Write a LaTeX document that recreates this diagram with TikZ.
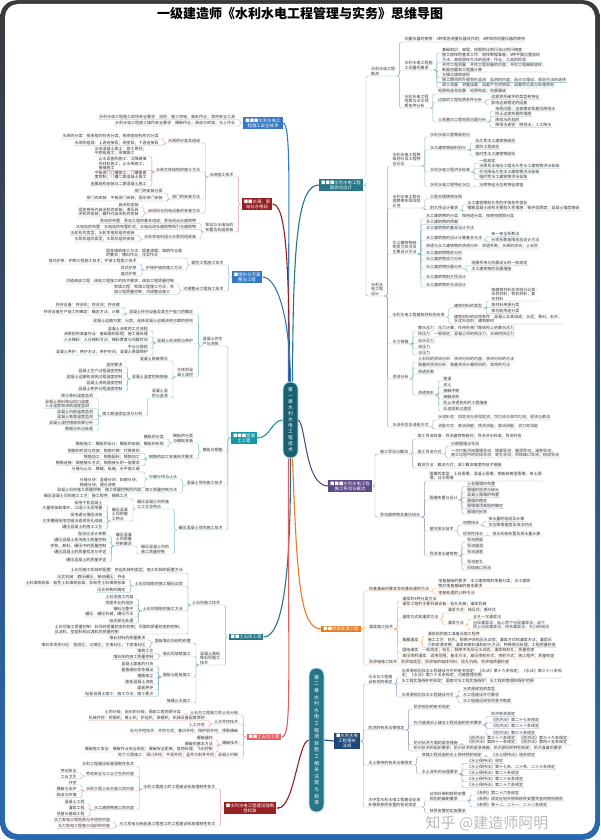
\documentclass[tikz,border=0pt]{standalone}
\usepackage{fontspec}
\newfontfamily\cjk{Noto Sans CJK SC}
\usetikzlibrary{arrows.meta, positioning, calc}
\definecolor{gris}{RGB}{58,58,62}
\definecolor{bleucadre}{RGB}{40,105,180}
\definecolor{bleu}{RGB}{52,120,196}
\definecolor{sarcelle}{RGB}{38,118,136}
\definecolor{sarcelleclair}{RGB}{24,150,166}
\definecolor{sarcellefonce}{RGB}{26,96,112}
\definecolor{bordeaux}{RGB}{150,32,36}
\definecolor{rouge}{RGB}{224,96,96}
\definecolor{mauve}{RGB}{94,74,136}
\definecolor{orangef}{RGB}{234,122,32}
\definecolor{marine}{RGB}{30,72,122}
\tikzset{
	feuille/.style={font=\cjk\fontsize{4}{4.3}\selectfont, text=black!80,
		inner xsep=1pt, inner ysep=0.4pt, align=left},
	boite/.style={font=\cjk\fontsize{4.4}{5}\selectfont, text=white,
		inner xsep=2pt, inner ysep=1.4pt, align=center},
	lien/.style={line width=0.4pt, rounded corners=1.5pt, draw=#1},
	branche/.style={line width=1.1pt, draw=#1},
	capsule/.style={text=white, font=\cjk\fontsize{4.8}{6}\selectfont, align=center,
		rounded corners=7pt, draw=cyan!25, line width=0.8pt, inner sep=0pt, minimum width=15pt},
}
\newcommand{\filsD}[4]{%
	\foreach \y/\txt [count=\i] in {#4}{%
		\node[feuille, anchor=south west, xshift=7pt] (#1-\i) at (#1.#2 |- 0,\y) {\txt};
		\draw[#3] (#1.#2) -- ++(3,0) |- (#1-\i.south west) -- (#1-\i.south east);
	}}
\newcommand{\filsG}[4]{%
	\foreach \y/\txt [count=\i] in {#4}{%
		\node[feuille, anchor=south east, xshift=-7pt] (#1-\i) at (#1.#2 |- 0,\y) {\txt};
		\draw[#3] (#1.#2) -- ++(-3,0) |- (#1-\i.south east) -- (#1-\i.south west);
	}}

\begin{document}
\begin{tikzpicture}[x=1pt, y=-1pt, font=\cjk]
	\useasboundingbox (0,0) rectangle (600,840);
	\fill[top color=gris, bottom color=bleucadre, rounded corners=16pt] (0.5,0.5) rectangle (599.5,839.5);
	\fill[white, rounded corners=13pt] (5,4) rectangle (595,834);
	\node[font=\cjk\bfseries\fontsize{13}{13}\selectfont] (titre) at (300,13) {一级建造师《水利水电工程管理与实务》思维导图};

	\node[capsule, fill=sarcellefonce, minimum height=76pt] (ch1) at (290.5,420)
	{第\\一\\章\\水\\利\\水\\电\\工\\程\\技\\术};

	\node[boite, fill=sarcelle] (kc) at (341,185) {■■■水利水电工程\\勘测与设计};
	\filsD{kc}{east}{lien=sarcelle!55}{76/{水利水电工程\\勘测}, 296/{水利水\\电工程\\设计}}
	\filsD{kc-1}{south east}{lien=sarcelle!55}{42/{测量仪器的使用：4种常用测量仪器及作用；4种常用测量仪器的使用},
		70/{水利水电工程施\\工测量的要求}, 108/{水利水电工程\\地质与水文地\\质条件分析}}
	\filsD{kc-1-2}{south east}{lien=sarcelle!55}{53/{基础知识：高程；地图的比例尺及比例尺精度},
		62.5/{施工放样的基本工作：放样数据准备；5种平面位置放样\\方法；高程放样方法的选择；作业；工具的检验},
		72/{开挖工程测量：开挖工程测量的内容；开挖工程细部放样；\\断面测量和工程量计算},
		77.3/{立模与填筑放样}, 82.6/{施工期间的外部变形监测：监测的内容；选点与埋设；观测方法的选择},
		88/{竣工测量\quad 测量误差：误差产生的原因；误差的分类与处理原则}}
	\filsD{kc-1-3}{south east}{lien=sarcelle!55}{94/{地质构造及地震：地质构造；地震震级},
		102/{边坡的工程地质条件分析}, 122/{土质基坑工程地质问题分析}}
	\filsD{kc-1-3-2}{south east}{lien=sarcelle!55}{99.5/{边坡变形破坏的类型和特征}, 105/{影响边坡稳定的因素}}
	\filsD{kc-1-3-3}{south east}{lien=sarcelle!55}{111/{地质问题：边坡稳定和基坑降排水}, 116.5/{防止边坡失稳的措施},
		122/{降排水的目的}, 127.5/{降排水途径：明排法；人工降水}}
	\filsD{kc-2}{south east}{lien=sarcelle!55}{166/{水利水电工程等\\级划分及工程特\\征水位},
		208/{水利水电工程合\\理使用年限及耐\\久性}, 254/{水工建筑物结\\构受力状况及\\主要设计方法},
		317/{水利水电工程建筑材料的应用}, 344/{水力荷载}, 379/{渗流分析}, 427/{水流形态及消能方式}}
	\filsD{kc-2-1}{south east}{lien=sarcelle!55}{137/{水利水电工程等级划分}, 150/{水工建筑物级别划分},
		172/{水利水电工程洪水标准}, 187/{水利水电工程特征水位}}
	\filsD{kc-2-1-2}{south east}{lien=sarcelle!55}{143/{永久性水工建筑物级别}, 149.5/{堤防工程级别}, 156/{临时性水工建筑物级别}}
	\filsD{kc-2-1-3}{south east}{lien=sarcelle!55}{163/{一般规定}, 168.5/{水库及水电站工程永久性水工建筑物洪水标准},
		174/{拦河闸永久性水工建筑物洪水标准}, 179.5/{临时性水工建筑物洪水标准}}
	\filsD{kc-2-1-4}{south east}{lien=sarcelle!55}{187/{水库特征水位和特征库容}}
	\filsD{kc-2-2}{south east}{lien=sarcelle!55}{199/{工程合理使用年限}, 210/{耐久性设计要求}}
	\filsD{kc-2-2-2}{south east}{lien=sarcelle!55}{205/{水工建筑物耐久性的环境条件类别},
		211/{钢筋混凝土结构主要耐久性措施：保护层厚度；混凝土强度等级}}
	\filsD{kc-2-3}{south east}{lien=sarcelle!55}{219/{水工建筑物的分类：按用途分类；按使用期限分类},
		224.5/{水工建筑物的荷载}, 230/{水工建筑物的基本设计方法}, 240/{水工建筑物的设计计算基本方法},
		249/{渗透与水工建筑物的渗透分析：渗透系数；水闸的渗流；土石坝}, 255/{水工建筑物稳定分析},
		261/{水工建筑物应力分析}, 269/{水工建筑物抗震分析}, 279/{水工建筑物耐久性设计}, 287/{水工建筑物的水流设计}}
	\filsD{kc-2-3-4}{south east}{lien=sarcelle!55}{236.5/{单一安全系数法}, 242/{分项系数极限状态设计方法}}
	\filsD{kc-2-3-8}{south east}{lien=sarcelle!55}{265.5/{地震作用与抗震设计的一般规定}, 271/{水工建筑物的抗震措施}}
	\filsD{kc-2-4}{south east}{lien=sarcelle!55}{308/{建筑材料的类型},
		324/{建筑材料的应用条件：混凝土及其组成；水泥；骨料；石灰；\\水泥外加剂；建筑钢材}}
	\filsD{kc-2-4-1}{south east}{lien=sarcelle!55}{301/{按建筑材料化学成分分类：\\无机材料；有机材料；复\\合材料},
		307.5/{按材料来源分类}, 313.5/{按功能用途分类}}
	\filsD{kc-2-5}{south east}{lien=sarcelle!55}{331/{静水压力：压力计算；作用在闸门等结构上的静水压力},
		337/{扬压力：一般规定；混凝土坝的扬压力；水闸的扬压力}, 343/{动水压力}, 349/{浪压力}, 355/{冰压力}}
	\filsD{kc-2-6}{south east}{lien=sarcelle!55}{362/{土石坝的渗流分析：渗流分析的内容；渗流分析的方法},
		368/{闸基的渗流分析：闸基渗流计算的目的；常用的方法}, 374/{渗透系数}, 395/{渗透变形}}
	\filsD{kc-2-6-4}{south east}{lien=sarcelle!55}{381/{管涌}, 387/{流土}, 393/{接触冲刷}, 399/{接触流失},
		405/{防止渗透变形的工程措施}, 411/{反滤层和过渡层}}
	\filsD{kc-2-7}{south east}{lien=sarcelle!55}{420/{水流形态：恒定流与非恒定流；均匀流与非均匀流；层流与紊流},
		429/{消能方式：底流消能；挑流消能；面流消能；消力戽消能}}

	\node[boite, fill=mauve] (dl) at (350,486) {■■■水利水电工程\\施工导流与截流};
	\filsD{dl}{east}{lien=mauve!55}{454/{施工导流与截流}, 517/{导流建筑物及基坑排水}}
	\filsD{dl-1}{south east}{lien=mauve!55}{439/{施工导流标准：导流建筑物级别；导流洪水标准；导流时段},
		454/{施工导流方式}, 468/{截流方法：截流方式；减少截流难度的技术措施}}
	\filsD{dl-1-2}{south east}{lien=mauve!55}{446/{分期围堰法导流},
		458/{一次拦断河床围堰导流：明渠导流；隧洞导流；涵管导流；\\施工过程中的坝体导流：底孔导流；坝体缺口导流；梳齿导流}}
	\filsD{dl-2}{south east}{lien=mauve!55}{481/{围堰的类型：土石围堰；混凝土围堰；钢板桩格型围堰；草土围\\堰；过水围堰},
		500/{围堰布置与设计}, 531/{基坑排水技术}, 556/{导流泄水建筑物}}
	\filsD{dl-2-2}{south east}{lien=mauve!55}{486.5/{土石围堰的布置}, 492/{围堰的防渗与接头}, 497.5/{混凝土围堰的布置},
		503/{围堰的稳定}, 508.5/{围堰堰顶高程的确定}, 514/{围堰的拆除}}
	\filsD{dl-2-3}{south east}{lien=mauve!55}{525/{初期排水}, 536/{经常性排水}}
	\filsD{dl-2-3-1}{south east}{lien=mauve!55}{521.5/{排水量的组成及计算}, 527/{水位降落速度及排水时间}}
	\filsD{dl-2-3-2}{south east}{lien=mauve!55}{536/{排水系统布置及排水量计算}}
	\filsD{dl-2-4}{south east}{lien=mauve!55}{542/{导流明渠}, 548/{导流隧洞}, 554/{导流涵管}, 564/{导流底孔}, 570/{坝体缺口导流}}

	\node[boite, fill=orangef] (dj) at (341,629) {■■地基处理工程};
	\filsD{dj}{east}{lien=orangef!65}{591/{地基基础的要求及地基处理的方法}, 629/{灌浆施工技术},
		665/{防渗墙施工技术：防渗墙类型；防渗墙的墙体材料；造孔机械；防渗墙质量检查}}
	\filsD{dj-1}{south east}{lien=orangef!65}{588/{地基基础的要求：水工建筑物的地基分类；水工建筑\\物对地基基础的基本要求},
		595/{地基处理的10种方法}}
	\filsD{dj-2}{south east}{lien=orangef!65}{601/{灌浆的4种分类方法}, 607/{灌浆工程的主要机械设备：钻孔机械；灌浆机械},
		619/{灌浆方式和灌浆方法}, 642/{帷幕灌浆},
		653/{固结灌浆：一般规定；钻孔；裂隙冲洗及压水试验；灌浆和封孔；质量检查},
		659/{高压喷射灌浆：适用范围；基本方法；高压喷射形式；喷射方式；施工程序；质量检查}}
	\filsD{dj-2-3}{south east}{lien=orangef!65}{613/{灌浆方式：纯压式；循环式}, 625/{灌浆方法}}
	\filsD{dj-2-3-2}{south east}{lien=orangef!65}{619/{全孔一次灌浆法},
		630/{分段灌浆法：自上而下分段灌浆法；自下\\而上分段灌浆法；综合灌浆法；孔口封闭法}}
	\filsD{dj-2-4}{south east}{lien=orangef!65}{636/{灌浆前的施工准备及施工程序},
		647.5/{施工工艺：钻孔；裂隙冲洗和压水试验；灌浆方式和灌浆方法；灌浆压\\力和浆液变换；灌浆结束标准和封孔方法；特殊情况处理；工程质量检查}}

	\node[boite, fill=bleu] (aq) at (263,123) {■■■水利水电工\\程施工安全技术};
	\filsG{aq}{west}{lien=bleu!55}{119.5/{水利水电工程施工现场安全要求：消防；施工用电；高处作业；常用安全工具},
		126/{水利水电工程施工操作安全要求：爆破作业；疏浚与吹填；水上作业}}

	\node[boite, fill=bordeaux] (zb) at (257,204) {■■水闸、泵\\站与水电站};
	\filsG{zb}{west}{lien=bordeaux!45}{177/{水闸施工技术}, 232/{泵站与水电站的\\布置及机组安装}}
	\filsG{zb-1}{south west}{lien=bordeaux!45}{143/{水闸的分类及组成}, 172/{水闸主体结构的施工方法},
		199/{闸门的安装方法}, 213/{启闭机与机电设备的安装方法}}
	\filsG{zb-1-1}{south west}{lien=bordeaux!45}{139/{水闸的分类：按承担的任务分类；按闸室结构形式分类},
		145.5/{水闸的组成：上游连接段；闸室段；下游连接段}}
	\filsG{zb-1-2}{south west}{lien=bordeaux!45}{156/{水闸混凝土施工：施工原则；\\平底板施工；闸墩施工},
		170.5/{止水设施的施工：沉降缝填\\充材料施工；止水带施工；\\接缝施工},
		180/{平板闸门门槽施工：门槽垂直\\度控制；门槽二期混凝土施工}, 186/{金属结构安装与二期混凝土施工}}
	\filsG{zb-1-3}{south west}{lien=bordeaux!45}{193/{闸门的安装分类}, 201/{闸门的安装：平板闸门安装；弧形闸门安装}}
	\filsG{zb-1-4}{south west}{lien=bordeaux!45}{207/{启闭机安装},
		217/{固定卷扬式启闭机的安装；液压启\\闭机的安装；螺杆式启闭机的安装}}
	\filsG{zb-2}{south west}{lien=bordeaux!45}{223.5/{泵站的布置：泵站工程的基本组成；泵站进出水建筑物},
		229.5/{水电站的布置：水电站的布置形式；水电站进水建筑物和引水建筑物}, 239/{水轮发电机组与水泵机组安装}}
	\filsG{zb-2-3}{south west}{lien=bordeaux!45}{235.5/{水轮机的类型；水轮发电机组的安装}, 242/{水泵机组的类型；水泵机组的安装}}

	\node[boite, fill=bleu] (df) at (247,277) {■堤防与河湖\\整治工程};
	\filsG{df}{west}{lien=bleu!55}{265/{堤防工程施工技术}, 291/{河湖整治工程施工技术}}
	\filsG{df-1}{south west}{lien=bleu!55}{258/{堤身填筑施工方法：堤基清理；填筑作业面\\的要求；铺料作业；压实作业},
		270/{护岸护坡的施工方法}}
	\filsG{df-1-2}{south west}{lien=bleu!55}{264/{坡式护岸：护脚工程施工技术；护坡工程施工技术}, 270/{坝式护岸}, 276/{墙式护岸}}
	\filsG{df-2}{south west}{lien=bleu!55}{284/{河道疏浚工程：疏浚工程施工的技术要求；疏浚工程质量控制},
		294.5/{吹填工程：吹填工程施工方法；吹\\填工程质量控制；河道整治施工}}

	\node[boite, fill=sarcelleclair] (hnt) at (244,438) {■■■混凝\\土工程};
	\filsG{hnt}{west}{lien=sarcelleclair!55}{346/{混凝土的生\\产与浇筑}, 452/{模板与钢筋}, 485/{混凝土坝的施工技术},
		530/{碾压混凝土坝的施工技术}}
	\filsG{hnt-1}{south west}{lien=sarcelleclair!55}{314/{混凝土拌合设备及其生产能力的确定},
		324/{混凝土运输方案：分类；选择混凝土运输浇筑方案的原则}, 343/{混凝土的浇筑与养护}, 377/{大体积混\\凝土温控}}
	\filsG{hnt-1-1}{south west}{lien=sarcelleclair!55}{307.5/{拌合设备：拌合机；拌合站；拌合楼},
		315/{拌合设备生产能力的确定：确定方法；计算}}
	\filsG{hnt-1-3}{south west}{lien=sarcelleclair!55}{331/{混凝土浇筑的工艺流程}, 337/{浇筑前的准备作业：基础面的处理；施工缝处理},
		343/{入仓铺料：入仓铺料方法；铺料厚度与间歇时间}, 349/{平仓与振捣},
		355/{混凝土养护：养护方法；养护时间；混凝土表面保护}}
	\filsG{hnt-1-4}{south west}{lien=sarcelleclair!55}{361/{混凝土裂缝情况}, 379/{混凝土温度控制措施}, 398/{混凝土温\\控与监测}}
	\filsG{hnt-1-4-2}{south west}{lien=sarcelleclair!55}{367/{温控要求}, 373/{混凝土生产过程温度控制},
		379/{混凝土运输和浇筑过程温度控制}, 385/{混凝土浇筑温度控制}, 391/{混凝土养护过程温度控制}}
	\filsG{hnt-1-4-3}{south west}{lien=sarcelleclair!55}{416/{施工期温度监测与分析}}
	\filsG{hnt-1-4-3-1}{south west}{lien=sarcelleclair!55}{398/{预冷骨料温度监测},
		408.5/{混凝土原料和出机口温度、\\入仓温度和浇筑温度监测}, 414/{混凝土内部温度监测},
		419.5/{混凝土表面温度监测}, 425/{混凝土温控措施效果分析}, 431/{数据分析与处理}}
	\filsG{hnt-2}{south west}{lien=sarcelleclair!55}{443/{模板的分类\\与模板安装}, 459/{钢筋的加工安装技术要求}}
	\filsG{hnt-2-1}{south west}{lien=sarcelleclair!55}{439/{模板的分类}, 447/{模板施工：模板的设计；模板的安装；模板的拆除}}
	\filsG{hnt-2-2}{south west}{lien=sarcelleclair!55}{453.5/{钢筋的检验与存放；钢筋代换：代换原则},
		459.5/{钢筋加工：钢筋配料；钢筋加工}, 465.5/{钢筋连接：钢筋接头方式；钢筋接头的一般要求}}
	\filsG{hnt-3}{south west}{lien=sarcelleclair!55}{479/{分缝分块与止水},
		493/{混凝土坝的施工质量控制：施工质量控制的内容；施工质量控制方法}}
	\filsG{hnt-3-1}{south west}{lien=sarcelleclair!55}{472/{分缝与止水：横缝；纵缝；水平施工缝},
		487.5/{分缝分块：竖缝分块；斜缝分块；\\错缝分块；通仓浇筑}}
	\filsG{hnt-4}{south west}{lien=sarcelleclair!55}{509/{碾压混凝土坝的施\\工工艺及特点}, 554/{碾压混凝土坝的\\施工质量控制}}
	\filsG{hnt-4-1}{south west}{lien=sarcelleclair!55}{499/{碾压混凝土坝的施工工艺：施工程序；铺筑工艺},
		521/{碾压混凝\\土坝的施\\工特点}}
	\filsG{hnt-4-1-2}{south west}{lien=sarcelleclair!55}{505/{采用干贫混凝土}, 511/{大量掺加粉煤灰，以减少水泥用量},
		517/{采用通仓薄层浇筑}, 523/{大坝横缝采用切缝法或诱导孔成缝}, 529/{碾压混凝土的施工工艺}}
	\filsG{hnt-4-2}{south west}{lien=sarcelleclair!55}{546/{碾压混凝\\土坝质量\\控制要求}}
	\filsG{hnt-4-2-1}{south west}{lien=sarcelleclair!55}{536/{配合比设计参数}, 542/{碾压混凝土现场施工质量控制},
		548/{拌和、卸料、碾压中的质量控制}, 554/{碾压混凝土的质量检测与评定}, 562/{碾压混凝土的质量评定}}

	\node[boite, fill=sarcelle] (tsb) at (246,637) {■■土石坝工程};
	\filsG{tsb}{west}{lien=sarcelle!55}{605/{土石坝施工技术}, 665/{混凝土面板\\堆石坝施工\\技术}}
	\filsG{tsb-1}{south west}{lien=sarcelle!55}{573/{土石坝施工机械的配置：挖运机械的类型；施工机械的配置方法},
		586/{土石坝填筑的施工碾压试验}, 611/{土石坝填筑的施工方法},
		634/{土石坝施工质量控制：料场的质量检查和控制；坝面的质量检查和控制；\\反滤料、垫层料和过渡料的质量控制}}
	\filsG{tsb-1-2}{south west}{lien=sarcelle!55}{579.5/{压实机械：静压碾压；振动碾压；夯击},
		586/{土料填筑标准：粘性土料填筑标准；非粘性土料填筑标准}, 592.5/{压实参数的确定}}
	\filsG{tsb-1-3}{south west}{lien=sarcelle!55}{599/{土石坝施工内容}, 605/{坝面作业的组织}, 611/{铺料与整平},
		617/{碾压：碾压机械；碾压方法}, 623/{结合部位处理}}
	\filsG{tsb-2}{south west}{lien=sarcelle!55}{643/{面板堆石坝结构布置}, 656/{堆石坝填筑施工}, 677/{面板与趾板施工},
		703/{接缝止水施工}}
	\filsG{tsb-2-1}{south west}{lien=sarcelle!55}{640/{堆石材料的质量要求},
		648/{堆石坝坝体分区：垫层区；过渡区；主堆石区；下游堆石区}}
	\filsG{tsb-2-2}{south west}{lien=sarcelle!55}{653.5/{填筑工艺}, 659.5/{堆石体的施工质量控制}}
	\filsG{tsb-2-3}{south west}{lien=sarcelle!55}{666/{混凝土面板的分块}, 672/{垂直缝砂浆条铺设}, 678/{钢筋架立},
		684/{面板混凝土浇筑}, 690/{面板养护}, 696.5/{趾板混凝土施工：施工方法；施工要点}}

	\node[boite, fill=rouge] (tsf) at (264,737) {■■土石方工程};
	\filsG{tsf}{west}{lien=rouge!60}{715/{土石方工程施工的土石分级}, 724/{土方开挖技术},
		734/{石方开挖技术：开挖方式；基坑开挖；保护层开挖；预裂爆破}, 745/{爆破技术},
		758/{地下工程施工：洞口开挖；平洞开挖；竖井与斜井开挖；混凝土衬砌}}
	\filsG{tsf-1}{south west}{lien=rouge!60}{715/{土的分级；岩石的分级；围岩工程地质分类}}
	\filsG{tsf-2}{south west}{lien=rouge!60}{720.5/{机械开挖：挖掘机；推土机；铲运机；装载机；机械设备配套原则}, 727/{人工开挖}}
	\filsG{tsf-4}{south west}{lien=rouge!60}{740/{爆破器材}, 746/{爆破的基本方法},
		752/{爆破施工安全：爆破作业安全规定；爆破安全距离；盲炮处理；飞石控制}}

	\draw[branche=sarcelle] ([xshift=2pt]ch1.north) .. controls (293,240) and (298,185) .. (kc.west);
	\draw[branche=bleu] ([xshift=-2pt]ch1.north) .. controls (288,200) and (292,123) .. (aq.east);
	\draw[branche=bordeaux] ([xshift=-1pt]ch1.north) .. controls (289,260) and (286,204) .. (zb.east);
	\draw[branche=bleu] (ch1.north) .. controls (290,320) and (278,277) .. (df.east);
	\draw[branche=sarcelleclair] (ch1.west) .. controls (272,420) and (270,438) .. (hnt.east);
	\draw[branche=mauve] (ch1.east) .. controls (306,425) and (305,486) .. (dl.west);
	\draw[branche=orangef] ([xshift=2pt]ch1.south) .. controls (297,580) and (300,629) .. (dj.west);
	\draw[branche=sarcelle] (ch1.south) .. controls (291,580) and (282,637) .. (tsb.east);
	\draw[branche=rouge] ([xshift=-2pt]ch1.south) .. controls (288,690) and (292,737) .. (tsf.east);

	\node[capsule, fill=sarcelle, minimum height=144pt, font=\cjk\fontsize{5}{6.6}\selectfont] (ch2) at (316.5,740)
	{第\\二\\章\\水\\利\\水\\电\\工\\程\\项\\目\\施\\工\\相\\关\\法\\规\\与\\标\\准};

	\node[boite, fill=marine] (fg) at (347,741) {■水利水电\\工程相关\\法规};
	\draw[branche=marine] (ch2.east) -- (fg.west);
	\filsD{fg}{east}{lien=marine!50}{684/{水法与工程建\\设有关的规定}, 730/{防洪的有关法律规定}, 765/{水土保持的有关法律规定},
		807/{大中型水利水电工程建设征地\\补偿和移民安置的有关规定}}
	\filsD{fg-1}{south east}{lien=marine!50}{678/{水资源规划及水工程建设许可的有关规定：《水法》第十九条规定；《水法》第三十八条规\\定；《水法》第六十五条规定；河道管理范围},
		684/{水工程实施保护的规定：国家对水工程实施保护；水工程的管理和保护范围}, 697/{水资源规划及水工程建设许可}}
	\filsD{fg-1-3}{south east}{lien=marine!50}{691/{水资源规划的类型}, 697/{水工程建设许可要求}, 703/{水工程建设规划同意书制度}}
	\filsD{fg-2}{south east}{lien=marine!50}{709/{防洪规划的有关规定}, 725/{在河道湖泊上建设工程设施的防洪要求},
		745/{防汛抗洪方面的紧急措施}, 751/{防汛抗洪的组织要求；防汛抗洪的紧急措施；防汛期间的特别规定；防汛准备的要求}}
	\filsD{fg-2-2}{south east}{lien=marine!50}{716.5/{防洪有关规定}, 722.5/{《防洪法》第二十七条规定},
		728.5/{《防洪法》第二十八条规定}, 735/{《防洪法》第三十条规定}}
	\filsD{fg-2-3}{south east}{lien=marine!50}{745/{《防洪法》第三十八条规定；《防洪法》第三十九条规定；\\《防洪法》第四十一条规定；《防洪法》第四十五条规定}}
	\filsD{fg-3}{south east}{lien=marine!50}{757/{修建工程设施的水土保持预防规定}, 774/{水土流失的治理要求}}
	\filsD{fg-3-1}{south east}{lien=marine!50}{757/{《水土保持法》相关规定}}
	\filsD{fg-3-2}{south east}{lien=marine!50}{763.5/{《水土保持法》规定}, 769.5/{《水土保持法》第十七条、二十条、二十三条规定},
		775.5/{《水土保持法》第二十条规定}, 781.5/{《水土保持法》第二十五条规定}, 787.5/{《水土保持法》第二十六条规定}}
	\filsD{fg-4}{south east}{lien=marine!50}{801/{征地补偿和移民安置\\规划的编制要求}, 813/{移民安置的实施要求}}
	\filsD{fg-4-1}{south east}{lien=marine!50}{795/{《条例》第二十六条规定}, 801/{《条例》规定征地补偿和移民安置资金的使用原则},
		807/{《条例》第十二、二十一、二十二条规定}}

	\node[boite, fill=bordeaux] (bz) at (250,808) {■水利水电工程建设强制\\性标准};
	\draw[branche=bordeaux, -{Stealth[length=3pt, width=2.6pt]}] (ch2.west) .. controls (298,742) and (294,808) .. (bz.east);
	\filsG{bz}{west}{lien=bordeaux!45}{789/{水利工程施工的工程建设标准强制性条文},
		826/{水力发电与新能源工程施工的工程建设标准强制性条文}}
	\filsG{bz-1}{south west}{lien=bordeaux!45}{766/{水利工程建设标准强制性条文}, 776/{劳动安全与工业卫生的内容},
		791/{水利工程土石方施工的内容}, 810/{水工建筑物施工的内容}}
	\filsG{bz-1-2}{south west}{lien=bordeaux!45}{773/{劳动安全}, 779/{工业卫生}}
	\filsG{bz-1-3}{south west}{lien=bordeaux!45}{785/{开挖}, 791/{爆破与支护}, 797.5/{疏浚与吹填}}
	\filsG{bz-1-4}{south west}{lien=bordeaux!45}{804/{混凝土工程}, 810/{灌浆工程}, 816.5/{地基与基础工程}}
	\filsG{bz-2}{south west}{lien=bordeaux!45}{822/{水力发电工程地质与开挖的内容}, 828.5/{水力发电工程施工组织的内容}}

	\node[font=\cjk\fontsize{15}{15}\selectfont, text=gris!35] (filigrane) at (487,823.5) {知乎 @建造师阿明};
\end{tikzpicture}
\end{document}
